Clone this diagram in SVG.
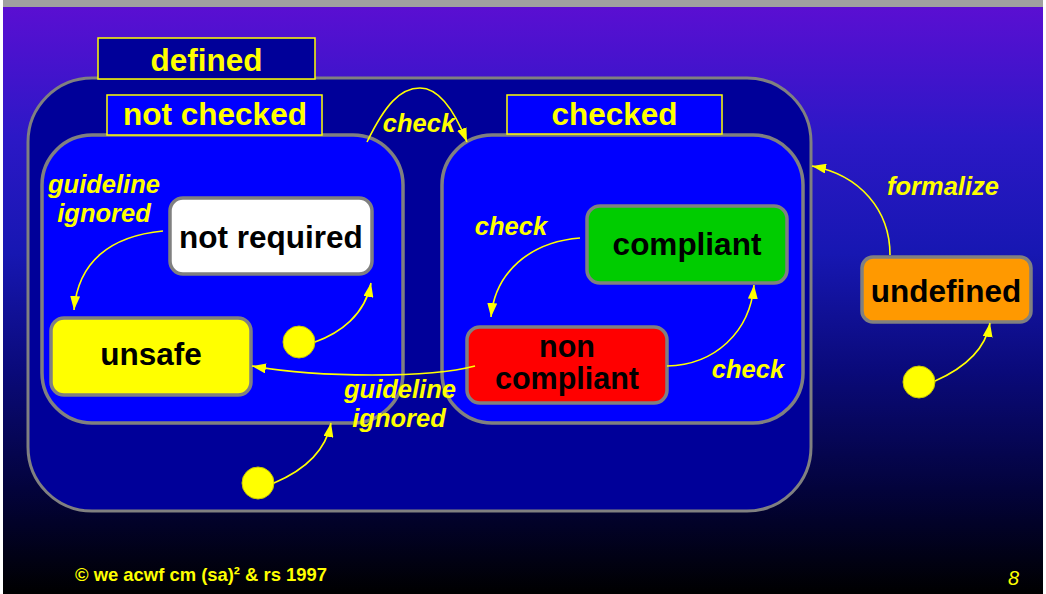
<svg xmlns="http://www.w3.org/2000/svg" width="1046" height="594" viewBox="0 0 1046 594">
  <defs>
    <linearGradient id="bg" x1="0" y1="0" x2="0" y2="1">
      <stop offset="0" stop-color="#5a0fd2"/>
      <stop offset="0.22" stop-color="#2c18c6"/>
      <stop offset="0.42" stop-color="#1717b2"/>
      <stop offset="0.62" stop-color="#0a0a7a"/>
      <stop offset="0.82" stop-color="#03033c"/>
      <stop offset="1" stop-color="#000000"/>
    </linearGradient>
    <marker id="arrow" markerUnits="userSpaceOnUse" markerWidth="14" markerHeight="10" refX="14" refY="5" orient="auto">
      <path d="M0,0 L14,5 L0,10 z" fill="#ffff00"/>
    </marker>
  </defs>
  <style>
    .region-outer { fill: #000099; stroke: #808080; stroke-width: 3; }
    .region-inner { fill: #0000ff; stroke: #808080; stroke-width: 3.5; }
    .tab { stroke: #ffff00; stroke-width: 1.5; }
    .tab-text { font-family: "Liberation Sans", Arial, sans-serif; font-weight: bold; font-size: 31.5px; fill: #ffff00; text-anchor: middle; }
    .state { stroke: #808080; stroke-width: 3.5; }
    .state-text { font-family: "Liberation Sans", Arial, sans-serif; font-weight: bold; font-size: 31.5px; fill: #000000; text-anchor: middle; }
    .state-text.two-line { font-size: 30.5px; }
    .init { fill: #ffff00; stroke: #c8c800; stroke-width: 1; }
    .edge { fill: none; stroke: #ffff00; stroke-width: 1.6; marker-end: url(#arrow); }
    .label { font-family: "Liberation Sans", Arial, sans-serif; font-weight: bold; font-style: italic; font-size: 25.5px; fill: #ffff00; text-anchor: middle; }
    .footer { font-family: "Liberation Sans", Arial, sans-serif; font-weight: bold; font-size: 19px; fill: #ffff00; }
  </style>

  <!-- page background -->
  <rect x="0" y="0" width="1046" height="594" fill="#ffffff"/>
  <rect x="3" y="7" width="1040" height="587" fill="url(#bg)"/>
  <rect x="3" y="0" width="1040" height="7" fill="#a0a0a0"/>

  <!-- superstate: defined -->
  <g id="defined">
    <rect class="region-outer" x="28" y="78" width="783" height="433" rx="64" ry="64"/>
    <rect class="tab" x="98" y="38" width="217" height="41" fill="#000099"/>
    <text class="tab-text" x="206.5" y="71">defined</text>
  </g>

  <!-- substate: not checked -->
  <g id="not-checked">
    <rect class="region-inner" x="42" y="135" width="361" height="288" rx="50" ry="50"/>
    <rect class="tab" x="107" y="95" width="215" height="40" fill="#0000ff"/>
    <text class="tab-text" x="215" y="125">not checked</text>
  </g>

  <!-- substate: checked -->
  <g id="checked">
    <rect class="region-inner" x="442" y="135" width="361" height="288" rx="50" ry="50"/>
    <rect class="tab" x="507" y="95" width="215" height="39" fill="#0000ff"/>
    <text class="tab-text" x="614.5" y="125">checked</text>
  </g>

  <g id="not-required">
    <rect class="state" x="170" y="198" width="202" height="76" rx="13" ry="13" fill="#ffffff"/>
    <text class="state-text" x="271" y="248">not required</text>
  </g>

  <g id="unsafe">
    <rect class="state" x="51" y="318" width="200" height="77" rx="13" ry="13" fill="#ffff00"/>
    <text class="state-text" x="151" y="365">unsafe</text>
  </g>

  <g id="compliant">
    <rect class="state" x="587" y="206" width="200" height="77" rx="13" ry="13" fill="#00cc00"/>
    <text class="state-text" x="687" y="255">compliant</text>
  </g>

  <g id="non-compliant">
    <rect class="state" x="467" y="327" width="200" height="76" rx="13" ry="13" fill="#ff0000"/>
    <text class="state-text two-line" x="567" y="357">non</text>
    <text class="state-text two-line" x="567" y="389">compliant</text>
  </g>

  <g id="undefined">
    <rect class="state" x="862" y="257" width="169" height="65" rx="11" ry="11" fill="#ff9900"/>
    <text class="state-text" x="946" y="302">undefined</text>
  </g>

  <!-- initial pseudo-states -->
  <g id="init-not-checked"><circle class="init" cx="299" cy="342" r="16"/></g>
  <g id="init-defined"><circle class="init" cx="258" cy="483" r="16"/></g>
  <g id="init-top"><circle class="init" cx="919" cy="382" r="16"/></g>

  <!-- transitions -->
  <g id="connectors">
    <path class="edge" d="M315,342 C340,333 365,315 371,283"/>
    <path class="edge" d="M274,483 C300,472 325,455 331,423"/>
    <path class="edge" d="M935,381 C960,370 985,352 990,323"/>
    <path class="edge" d="M163,231 C110,236 78,262 74,310"/>
    <path class="edge" d="M580,238 C530,242 495,272 491,317"/>
    <path class="edge" d="M667,366 C715,365 750,332 754,285"/>
    <path class="edge" d="M475,366 C430,378 320,378 252,366"/>
    <path class="edge" d="M367,142 C385,105 400,88 420,88 C440,88 455,112 467,142"/>
    <path class="edge" d="M890,255 C890,210 860,175 812,166"/>
  </g>

  <!-- transition labels -->
  <g id="labels">
    <text class="label" x="104" y="193">guideline</text>
    <text class="label" x="104" y="222">ignored</text>
    <text class="label" x="419" y="132">check</text>
    <text class="label" x="511" y="235">check</text>
    <text class="label" x="748" y="378">check</text>
    <text class="label" x="400" y="398">guideline</text>
    <text class="label" x="399" y="427">ignored</text>
    <text class="label" x="943" y="195">formalize</text>
  </g>

  <!-- footer -->
  <text class="footer" x="75" y="581" textLength="252" lengthAdjust="spacingAndGlyphs">© we acwf cm (sa)² &amp; rs 1997</text>
  <text x="1008" y="585" font-family="Liberation Sans, Arial, sans-serif" font-style="italic" font-size="20" fill="#ffff00">8</text>
</svg>
